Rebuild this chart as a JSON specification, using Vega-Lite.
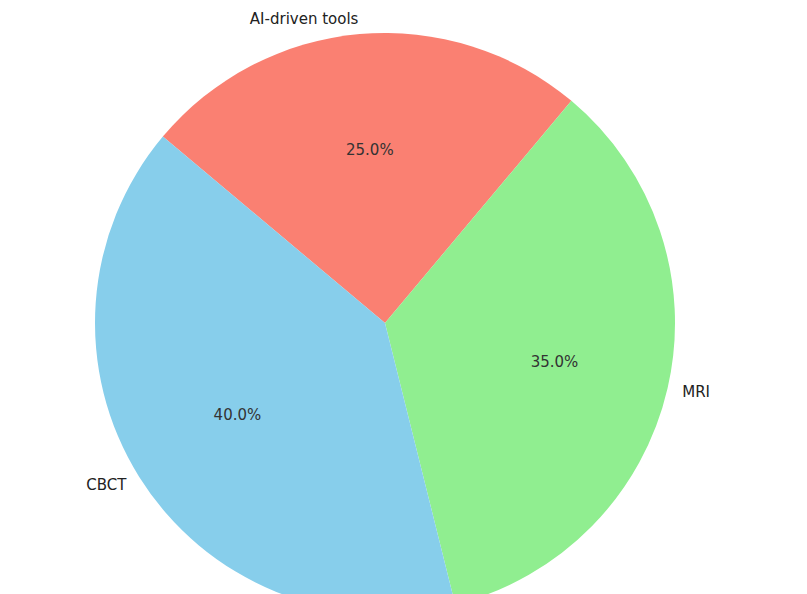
{
  "$schema": "https://vega.github.io/schema/vega-lite/v6.json",
  "autosize": {"type": "fit", "contains": "padding"},
  "width": 807,
  "height": 594,
  "padding": {"left": 0, "right": 37, "top": 38, "bottom": 0},
  "background": "white",
  "config": {"view": {"stroke": null}, "font": "DejaVu Sans"},
  "data": {
    "values": [
      {"tool": "AI-driven tools", "share": 25, "order": 1, "pct": "25.0%"},
      {"tool": "MRI", "share": 35, "order": 2, "pct": "35.0%"},
      {"tool": "CBCT", "share": 40, "order": 3, "pct": "40.0%"}
    ]
  },
  "encoding": {
    "theta": {"field": "share", "type": "quantitative", "stack": true, "scale": {"range": [-0.8727, 5.4105]}},
    "order": {"field": "order", "type": "ordinal"}
  },
  "layer": [
    {
      "mark": {"type": "arc", "outerRadius": 290},
      "encoding": {
        "color": {
          "field": "tool",
          "type": "nominal",
          "scale": {"domain": ["AI-driven tools", "MRI", "CBCT"], "range": ["#FA8072", "#90EE90", "#87CEEB"]},
          "legend": null
        }
      }
    },
    {
      "mark": {"type": "text", "radius": 174, "fontSize": 15, "color": "#333333"},
      "encoding": {"text": {"field": "pct"}}
    },
    {
      "mark": {"type": "text", "radius": 305, "fontSize": 15, "color": "#222222", "align": {"expr": "datum.tool === 'MRI' ? 'left' : 'right'"}},
      "encoding": {"text": {"field": "tool"}}
    }
  ]
}
